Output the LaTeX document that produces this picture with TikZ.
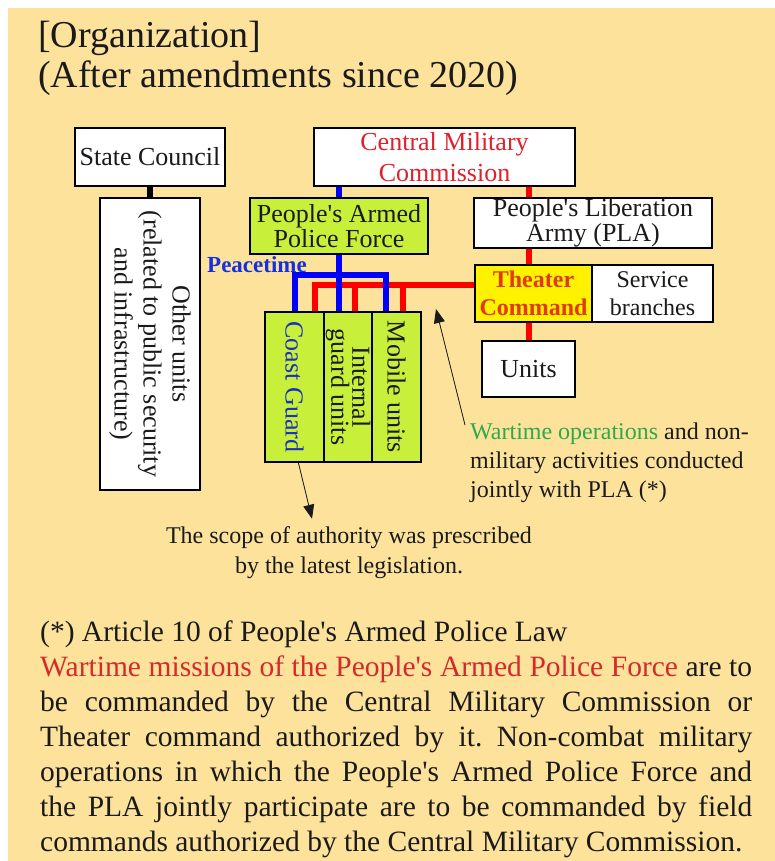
\documentclass[tikz,border=0pt]{standalone}
\usepackage{fontspec}
\setmainfont{Liberation Serif}
\usepackage{xcolor}
\usetikzlibrary{positioning,arrows.meta,calc}
\definecolor{paper}{HTML}{FDE29C}
\definecolor{lime}{HTML}{C8F03A}
\definecolor{cmcred}{HTML}{E0202A}
\definecolor{tcred}{HTML}{E03A10}
\definecolor{lawred}{HTML}{D42A2A}
\definecolor{peaceblue}{HTML}{1530E0}
\definecolor{cgblue}{HTML}{1A30C0}
\definecolor{wargreen}{HTML}{2EAA4A}
\definecolor{ink}{HTML}{1A1A1A}
\newcommand{\ap}{\textquotesingle}
\frenchspacing

\begin{document}
\begin{tikzpicture}[
    x=1pt, y=-1pt,
    box/.style={draw=black, line width=2.4pt, fill=white, inner sep=0pt, align=center, text=ink, font=\fontsize{26}{24}\selectfont},
    vbox/.style={box, fill=lime, rotate=-90},
    note/.style={inner sep=0pt, text=ink},
    rline/.style={line width=6pt, draw=red},
    bline/.style={line width=6pt, draw=blue},
    kline/.style={line width=6pt, draw=black},
    ptr/.style={-{Triangle[length=14pt,width=11pt]}, line width=0.8pt, draw=ink, fill=ink}
]
    \useasboundingbox (0,0) rectangle (775,861);
    \fill[paper] (8,8) rectangle (775,861);

    % heading
    \node[note, anchor=north west, align=left, font=\fontsize{38}{40}\selectfont] (title) at (38,21) {[Organization]\\(After amendments since 2020)};

    % state council side
    \node[box, minimum width=150, minimum height=58] (sc) at (150,157) {State Council};
    \node[box, rotate=-90, minimum width=292, minimum height=100, font=\fontsize{26}{29}\selectfont] (other) at (150,344) {Other units\\(related to public security\\and infrastructure)};

    % military side
    \node[box, text=cmcred, minimum width=261, minimum height=58, font=\fontsize{26}{31}\selectfont] (cmc) at (444.5,157) {Central Military\\Commission};
    \node[box, fill=lime, minimum width=178, minimum height=56, font=\fontsize{26}{22}\selectfont] (pap) at (339,226) {People\ap s Armed\\Police Force};
    \node[box, minimum width=238, minimum height=50, font=\fontsize{26}{22}\selectfont] (pla) at (593,223) {People\ap s Liberation\\Army (PLA)};
    \node[box, fill=yellow, text=tcred, minimum width=117, minimum height=57, font=\bfseries\fontsize{24}{28}\selectfont] (tc) at (533.5,293.5) {Theater\\Command};
    \node[box, right=-2.4pt of tc, minimum width=121, minimum height=57, font=\fontsize{24}{28}\selectfont] (sb) {Service\\branches};
    \node[box, minimum width=93, minimum height=56] (units) at (528.5,369) {Units};

    % armed police units
    \node[vbox, text=cgblue, minimum width=150, minimum height=59] (cg) at (294.5,387) {Coast Guard};
    \node[vbox, minimum width=150, minimum height=48, font=\fontsize{26}{21}\selectfont] (ig) at (348,387) {Internal\\guard units};
    \node[vbox, minimum width=150, minimum height=49] (mu) at (396.5,387) {Mobile units};

    \node[note, anchor=base west, text=peaceblue, font=\bfseries\fontsize{23}{23}\selectfont] (peace) at (207,272) {Peacetime};

    % command lines
    \coordinate (rbar) at ([yshift=8.5pt]tc.west);
    \coordinate (bbar) at (0,275);
    \draw[kline] (sc) -- (other);
    \draw[rline] (cmc.south -| units) -- (pla.north -| units);
    \draw[rline] (pla.south -| units) -- (tc.north -| units);
    \draw[rline] (tc.south -| units) -- (units.north);
    \draw[rline] (rbar) -| ([xshift=20pt]cg.west);
    \draw[rline] ([xshift=7pt]ig.west) -- ([xshift=7pt]ig.west |- rbar);
    \draw[rline] ([xshift=6.5pt]mu.west) -- ([xshift=6.5pt]mu.west |- rbar);
    \draw[bline] (pap.north) -- (pap.north |- cmc.south);
    \draw[bline] (pap.south) -- (pap.south |- ig.west);
    \draw[bline] (cg.west) -- (cg.west |- bbar) -| ([xshift=-11pt]mu.west);

    % remarks
    \node[note, anchor=north west, align=left, font=\fontsize{24}{29}\selectfont] (war) at (470,423) {\textcolor{wargreen}{Wartime operations} and non-\\military activities conducted\\jointly with PLA (*)};
    \coordinate (wtip) at (436,309);
    \draw[ptr] ([xshift=-5pt,yshift=-2pt]war.north west) -- (wtip);
    \node[note, align=center, font=\fontsize{24}{30}\selectfont] (scope) at (349,553) {The scope of authority was prescribed\\by the latest legislation.};
    \draw[ptr] ([xshift=4pt]cg.east) -- ([xshift=-37pt,yshift=8pt]scope.north);

    % article text
    \node[note, anchor=north west, align=left, font=\fontsize{29.5}{35}\selectfont] (law) at (40,621) {(*) Article 10 of People\ap s Armed Police Law\\
    \makebox[712pt][s]{\textcolor{lawred}{Wartime missions of the People\ap s Armed Police Force} are to}\\
    \makebox[712pt][s]{be commanded by the Central Military Commission or}\\
    \makebox[712pt][s]{Theater command authorized by it. Non-combat military}\\
    \makebox[712pt][s]{operations in which the People\ap s Armed Police Force and}\\
    \makebox[712pt][s]{the PLA jointly participate are to be commanded by field}\\
    commands authorized by the Central Military Commission.};
\end{tikzpicture}
\end{document}
